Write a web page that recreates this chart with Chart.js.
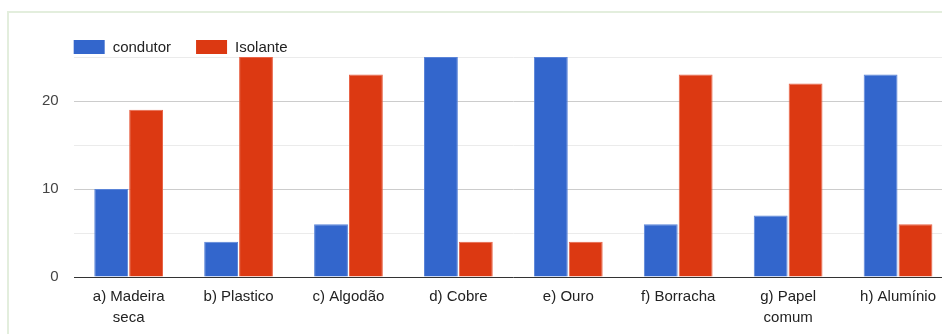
<!DOCTYPE html>
<html>
<head>
<meta charset="utf-8">
<script src="https://cdn.jsdelivr.net/npm/chart.js@4"></script>
<style>
  html, body { margin: 0; padding: 0; background: #fff; overflow: hidden; }
  .card {
    position: absolute; left: 7px; top: 11px; width: 960px; height: 330px;
    border-top: 2px solid #e3eedd; border-left: 2px solid #e3eedd;
  }
  .wrap { position: absolute; left: 0; top: 0; width: 960px; height: 337px; }
</style>
</head>
<body>
<div class="card"></div>
<div class="wrap"><canvas id="myChart" width="960" height="337"></canvas></div>
<script>
const categories = [['a) Madeira', 'seca'], 'b) Plastico', 'c) Algodão', 'd) Cobre', 'e) Ouro', 'f) Borracha', ['g) Papel', 'comum'], 'h) Alumínio'];
const condutor = [10, 4, 6, 25, 25, 6, 7, 23];
const isolante = [19, 25, 23, 4, 4, 23, 22, 6];

const font = "'Liberation Sans', Arial, sans-serif";

// legend drawn by hand, flush with the left edge of the plot
const topLegend = {
    id: 'top-legend',
    afterDraw: (chart) => {
        const c = chart.ctx;
        let x = chart.chartArea.left;
        const y = 40;
        c.save();
        c.font = '15px ' + font;
        c.textBaseline = 'middle';
        chart.data.datasets.forEach((ds) => {
            c.fillStyle = ds.backgroundColor;
            c.fillRect(x, y, 31, 14);
            c.fillStyle = '#222';
            c.fillText(ds.label, x + 39, y + 8);
            x += 39 + c.measureText(ds.label).width + 25;
        });
        c.restore();
    }
};

const ctx = document.getElementById('myChart').getContext('2d');
const myChart = new Chart(ctx, {
    type: 'bar',
    data: {
        labels: categories,
        datasets: [{
            label: 'condutor',
            data: condutor,
            backgroundColor: '#3366cc',
            borderColor: '#5a84d8',
            borderWidth: 1
        }, {
            label: 'Isolante',
            data: isolante,
            backgroundColor: '#dc3912',
            borderColor: '#e86448',
            borderWidth: 1
        }]
    },
    options: {
        responsive: false,
        animation: false,
        categoryPercentage: 0.635,
        barPercentage: 0.97,
        layout: {
            padding: { left: 27, right: 7, top: 57, bottom: 0 }
        },
        scales: {
            y: {
                min: 0,
                max: 25,
                border: { display: false },
                grid: {
                    drawTicks: false,
                    color: function(context) {
                        const v = context.tick ? context.tick.value : 1;
                        if (v === 0) return '#333333'; // baseline
                        if (v % 10 === 0) return '#cccccc';
                        return '#ebebeb';
                    }
                },
                ticks: {
                    stepSize: 5,
                    padding: 15,
                    color: '#444',
                    font: { family: font, size: 15 },
                    callback: (v) => (v % 10 === 0 ? v : '')
                }
            },
            x: {
                border: { display: false },
                grid: { display: false, drawTicks: false },
                ticks: {
                    padding: 9,
                    color: '#222',
                    maxRotation: 0,
                    autoSkip: false,
                    font: { family: font, size: 15, lineHeight: 1.4 }
                }
            }
        },
        plugins: {
            legend: { display: false },
            tooltip: { enabled: false }
        }
    },
    plugins: [topLegend]
});
</script>
</body>
</html>
